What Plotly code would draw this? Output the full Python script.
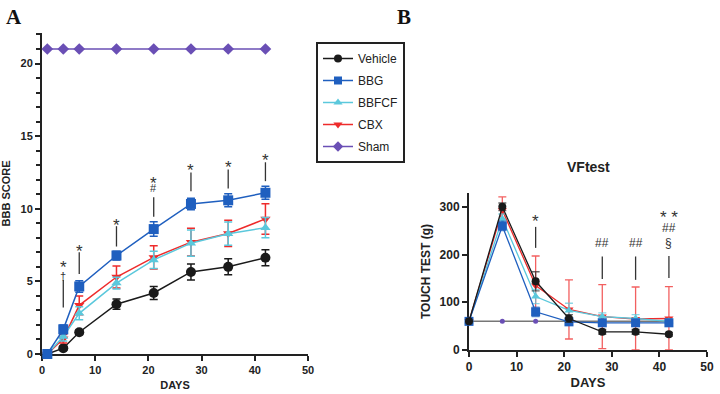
import plotly.graph_objects as go

# ---------------- Panel A data (BBB score) ----------------
days_A = [1, 4, 7, 14, 21, 28, 35, 42]
veh_A = [0, 0.4, 1.5, 3.43, 4.2, 5.65, 6.0, 6.63]
veh_A_err = [0, 0.15, 0.15, 0.35, 0.45, 0.55, 0.55, 0.55]
bbg_A = [0, 1.7, 4.65, 6.78, 8.6, 10.33, 10.58, 11.1]
bbg_A_err = [0, 0.3, 0.4, 0.3, 0.5, 0.4, 0.45, 0.45]
bbfcf_A = [0, 1.2, 2.8, 4.88, 6.48, 7.63, 8.28, 8.7]
bbfcf_A_err = [0, 0.3, 0.45, 0.4, 0.6, 0.9, 0.8, 0.7]
cbx_A = [0, 1.05, 3.35, 5.3, 6.65, 7.7, 8.3, 9.3]
cbx_A_err = [0, 0.3, 0.65, 0.75, 0.8, 0.95, 0.9, 1.05]
sham_A = [21, 21, 21, 21, 21, 21, 21, 21]

sigA_days = [4, 4, 7, 14, 21, 21, 28, 35, 42]
sigA_text = ["*", "†", "*", "*", "*", "#", "*", "*", "*"]
sigA_y = [6.3, 5.4, 7.4, 9.2, 12.1, 11.4, 13.0, 13.2, 13.7]
sigA_line_days = [4, 7, 14, 21, 28, 35, 42]
sigA_line_lo = [3.2, 5.5, 7.4, 9.45, 11.2, 11.4, 11.9]
sigA_line_hi = [5.1, 7.0, 8.8, 10.8, 12.5, 12.7, 13.2]

# ---------------- Panel B data (VF test) ----------------
days_B = [0, 7, 14, 21, 28, 35, 42]
veh_B = [60, 300, 144, 66, 38, 38, 33]
veh_B_err = [0, 8, 20, 8, 5, 5, 4]
bbg_B = [60, 260, 80, 59, 57, 57, 57]
bbg_B_err = [0, 10, 10, 6, 4, 4, 4]
bbfcf_B = [60, 275, 112, 83, 70, 66, 60]
bbfcf_B_err = [0, 10, 15, 15, 8, 8, 5]
cbx_B = [60, 293, 135, 85, 70, 65, 66]
cbx_B_err = [0, 28, 62, 62, 67, 67, 67]
sham_B = [60, 60, 60, 60, 60, 60, 60]

sigB_days = [14, 28, 35, 42, 42, 42]
sigB_text = ["*", "##", "##", "* *", "##", "§"]
sigB_y = [279, 224, 224, 289, 256, 224]
sigB_line_days = [14, 28, 35, 42]
sigB_line_lo = [214, 149, 147, 151]
sigB_line_hi = [258, 196, 196, 197]

legend_names = ["Vehicle", "BBG", "BBFCF", "CBX", "Sham"]

BLACK = "#1a1a1a"
BLUE = "#1f5fbf"
CYAN = "#5bc8dc"
RED = "#ee2b2b"
PURPLE = "#6a4fb5"
FONT = "Liberation Sans, Arial, sans-serif"
STYLE = {"Vehicle": (BLACK, "circle"), "BBG": (BLUE, "square"), "BBFCF": (CYAN, "triangle-up"),
         "CBX": (RED, "triangle-down"), "Sham": (PURPLE, "diamond")}

fig = go.Figure()


def add_series(x, y, err, color, symbol, size, name, xa, ya, ecolor=None, ewidth=1.5, lwidth=1.5, clip=False):
    minus = [min(e, v) for e, v in zip(err, y)] if clip else err
    fig.add_trace(go.Scatter(
        x=x, y=y, name=name, mode="lines+markers",
        line=dict(color=color, width=lwidth),
        marker=dict(symbol=symbol, size=size, color=color),
        error_y=dict(type="data", array=err, arrayminus=minus, color=ecolor or color,
                     thickness=ewidth, width=4, visible=True),
        xaxis=xa, yaxis=ya, showlegend=False, cliponaxis=False,
    ))


# Panel A
add_series(days_A, sham_A, [0]*8, PURPLE, "diamond", 9, "Sham", "x", "y")
add_series(days_A, veh_A, veh_A_err, BLACK, "circle", 10, "Vehicle", "x", "y")
add_series(days_A, cbx_A, cbx_A_err, RED, "triangle-down", 9, "CBX", "x", "y")
add_series(days_A, bbfcf_A, bbfcf_A_err, CYAN, "triangle-up", 9, "BBFCF", "x", "y")
add_series(days_A, bbg_A, bbg_A_err, BLUE, "square", 10, "BBG", "x", "y")

# Legend entries (order as in reference), each in its own group for spacing
for i, nm in enumerate(legend_names):
    col, sym = STYLE[nm]
    fig.add_trace(go.Scatter(x=[None], y=[None], name=nm, mode="lines+markers",
                             line=dict(color=col, width=1.5),
                             marker=dict(symbol=sym, size=8, color=col),
                             legendgroup=f"g{i}", xaxis="x", yaxis="y", showlegend=True))

# Panel B
fig.add_trace(go.Scatter(x=days_B, y=sham_B, mode="lines+markers", line=dict(color="#777777", width=1.5),
                         marker=dict(symbol="circle", size=5, color=PURPLE), xaxis="x2", yaxis="y2",
                         showlegend=False, cliponaxis=False))
add_series(days_B, cbx_B, cbx_B_err, RED, "triangle-down", 8, "CBX", "x2", "y2",
           ecolor="rgba(238,43,43,0.75)", ewidth=1.3, lwidth=1.3, clip=True)
add_series(days_B, bbfcf_B, bbfcf_B_err, CYAN, "triangle-up", 8, "BBFCF", "x2", "y2",
           ecolor="rgba(91,200,220,0.7)", ewidth=1.3, lwidth=1.3, clip=True)
add_series(days_B, bbg_B, bbg_B_err, BLUE, "square", 9, "BBG", "x2", "y2",
           ecolor="rgba(31,95,191,0.7)", ewidth=1.3, lwidth=1.3, clip=True)
add_series(days_B, veh_B, veh_B_err, BLACK, "circle", 8, "Vehicle", "x2", "y2",
           ecolor="rgba(40,40,40,0.7)", ewidth=1.3, lwidth=1.3, clip=True)

# Significance marks
for d, lo, hi in zip(sigA_line_days, sigA_line_lo, sigA_line_hi):
    fig.add_shape(type="line", x0=d, x1=d, y0=lo, y1=hi, xref="x", yref="y",
                  line=dict(color="#333333", width=1.3))
for d, t, yy in zip(sigA_days, sigA_text, sigA_y):
    star = "*" in t
    fig.add_annotation(x=d, y=yy, xref="x", yref="y", text=t, showarrow=False,
                       font=dict(family=FONT, size=17 if star else 11, color="#333333"),
                       yshift=-5 if star else 0)
for d, lo, hi in zip(sigB_line_days, sigB_line_lo, sigB_line_hi):
    fig.add_shape(type="line", x0=d, x1=d, y0=lo, y1=hi, xref="x2", yref="y2",
                  line=dict(color="#333333", width=1.3))
for d, t, yy in zip(sigB_days, sigB_text, sigB_y):
    star = "*" in t
    fig.add_annotation(x=d, y=yy, xref="x2", yref="y2", text=t, showarrow=False,
                       font=dict(family=FONT, size=17 if star else 12, color="#333333"),
                       yshift=-5 if star else 0)

# Panel letters and title
fig.add_annotation(x=4/720, y=1-17/394, xref="paper", yref="paper", text="<b>A</b>", showarrow=False,
                   xanchor="left", yanchor="middle",
                   font=dict(family="Liberation Serif, Times New Roman, serif", size=21, color="#111"))
fig.add_annotation(x=395/720, y=1-17/394, xref="paper", yref="paper", text="<b>B</b>", showarrow=False,
                   xanchor="left", yanchor="middle",
                   font=dict(family="Liberation Serif, Times New Roman, serif", size=21, color="#111"))
fig.add_annotation(x=588/720, y=1-167/394, xref="paper", yref="paper", text="<b>VFtest</b>", showarrow=False,
                   xanchor="center", yanchor="middle", font=dict(family=FONT, size=14, color="#222"))

axis_common = dict(showline=True, linecolor="#222222", linewidth=2, ticks="outside", ticklen=5,
                   tickwidth=2, tickcolor="#222222", showgrid=False, zeroline=False,
                   layer="below traces", automargin=False)

fig.update_layout(
    width=720, height=394, margin=dict(l=0, r=0, t=0, b=0),
    plot_bgcolor="white", paper_bgcolor="white",
    font=dict(family=FONT, color="#222222"),
    xaxis=dict(domain=[42/720, 308/720], range=[0, 50], tickvals=[0, 10, 20, 30, 40, 50],
               tickfont=dict(size=11, weight="bold"),
               title=dict(text="<b>DAYS</b>", font=dict(size=11), standoff=6),
               anchor="y", **axis_common),
    yaxis=dict(domain=[1-354/394, 1-33/394], range=[0, 22.1], tickvals=[0, 5, 10, 15, 20],
               tickfont=dict(size=11, weight="bold"),
               minor=dict(dtick=1, ticklen=4, tickwidth=2, tickcolor="#222222", ticks="outside"),
               title=dict(text="<b>BBB SCORE</b>", font=dict(size=11), standoff=8),
               anchor="x", **axis_common),
    xaxis2=dict(domain=[469/720, 707/720], range=[0, 50], tickvals=[0, 10, 20, 30, 40, 50],
                tickfont=dict(size=12, weight="bold"),
                title=dict(text="<b>DAYS</b>", font=dict(size=13), standoff=4),
                anchor="y2", **axis_common),
    yaxis2=dict(domain=[1-350/394, 1-193/394], range=[0, 329], tickvals=[0, 100, 200, 300],
                tickfont=dict(size=12, weight="bold"),
                title=dict(text="<b>TOUCH TEST (g)</b>", font=dict(size=12), standoff=6),
                anchor="x2", **axis_common),
    legend=dict(x=316/720, y=1-42/394, xanchor="left", yanchor="top",
                bordercolor="#222222", borderwidth=2, bgcolor="white",
                font=dict(family=FONT, size=12, color="#222222"),
                traceorder="grouped", tracegroupgap=3, itemwidth=30),
)

fig.write_html("out.html", config={"displayModeBar": False},
               post_script="document.body.style.margin='0';")
